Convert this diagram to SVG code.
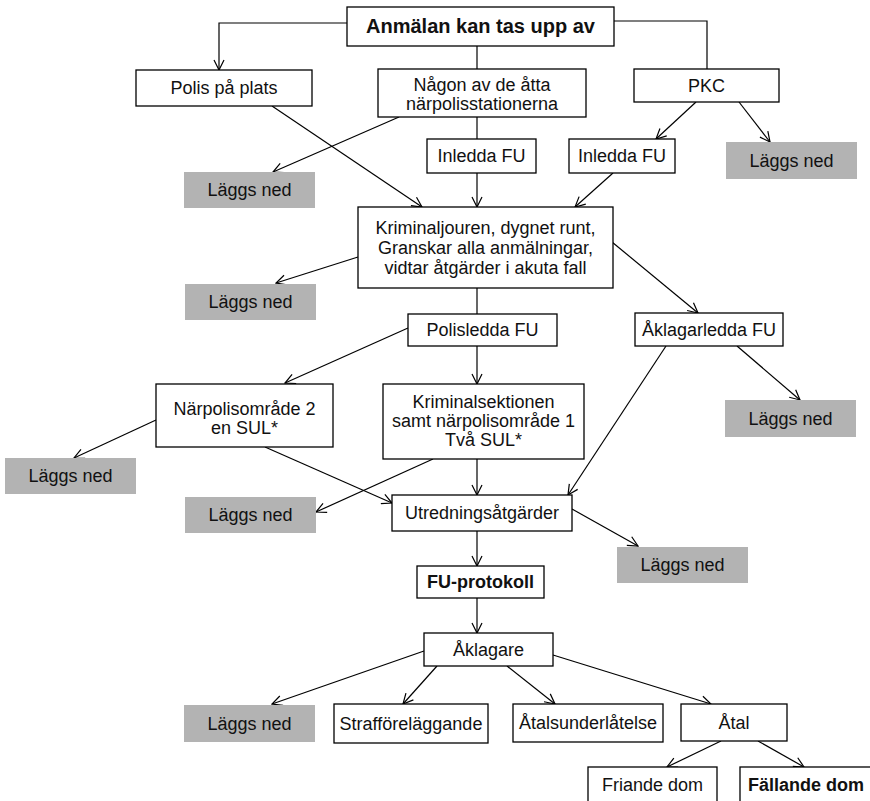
<svg xmlns="http://www.w3.org/2000/svg" width="870" height="801" viewBox="0 0 870 801">
<style>
.b{fill:#fff;stroke:#000;stroke-width:1.3}
.g{fill:#b3b3b3;stroke:none}
text{font-family:"Liberation Sans",Arial,sans-serif;font-size:18px;fill:#111;text-anchor:middle}
.bold{font-weight:bold}
.t{font-size:20px}
#connectors line,#connectors polyline{stroke:#000;stroke-width:1.2;fill:none}
.a{marker-end:url(#arr)}
</style>
<defs>
<marker id="arr" viewBox="0 0 12 12" refX="11" refY="6" markerWidth="12" markerHeight="12" markerUnits="userSpaceOnUse" orient="auto">
<path d="M1,1 L11,6 L1,11" fill="none" stroke="#000" stroke-width="1.2"/>
</marker>
</defs>
<rect width="870" height="801" fill="#fff"/>
<g id="connectors">
<polyline class="a" points="347,23 219,23 219,70"/>
<line x1="477" y1="46" x2="477" y2="69"/>
<polyline points="614,21 707,21 707,69"/>
<line x1="477" y1="117" x2="477" y2="139"/>
<line class="a" x1="477" y1="173" x2="477" y2="207"/>
<line class="a" x1="696" y1="102" x2="656" y2="139"/>
<line class="a" x1="739" y1="102" x2="770" y2="142"/>
<line class="a" x1="613" y1="173" x2="575" y2="207"/>
<line class="a" x1="399" y1="117" x2="273" y2="172"/>
<line class="a" x1="272" y1="106" x2="422" y2="207"/>
<line class="a" x1="358" y1="257" x2="276" y2="283"/>
<line x1="477" y1="288" x2="477" y2="314"/>
<line class="a" x1="612" y1="242" x2="698" y2="313"/>
<line class="a" x1="408" y1="328" x2="285" y2="383"/>
<line class="a" x1="477" y1="346" x2="477" y2="384"/>
<line class="a" x1="737" y1="346" x2="800" y2="400"/>
<line class="a" x1="666" y1="346" x2="568" y2="495"/>
<line class="a" x1="156" y1="420" x2="74" y2="458"/>
<line class="a" x1="265" y1="447" x2="392" y2="503"/>
<line class="a" x1="433" y1="459" x2="316" y2="512"/>
<line class="a" x1="477" y1="459" x2="477" y2="495"/>
<line class="a" x1="572" y1="509" x2="638" y2="546"/>
<line class="a" x1="477" y1="531" x2="477" y2="566"/>
<line class="a" x1="477" y1="598" x2="477" y2="633"/>
<line class="a" x1="424" y1="651" x2="272" y2="704"/>
<line class="a" x1="437" y1="666" x2="403" y2="704"/>
<line class="a" x1="507" y1="666" x2="555" y2="704"/>
<line class="a" x1="553" y1="655" x2="711" y2="704"/>
<line class="a" x1="721" y1="741" x2="667" y2="767"/>
<line class="a" x1="758" y1="741" x2="804" y2="767"/>
</g>
<g id="anmalan"><rect class="b" x="347" y="7" width="267" height="39"/><text class="bold t" x="480.5" y="33">Anmälan kan tas upp av</text></g>
<g id="polis"><rect class="b" x="136" y="70" width="176" height="36"/><text x="224" y="94">Polis på plats</text></g>
<g id="nagon"><rect class="b" x="378" y="69" width="208" height="48"/><text x="482" y="91">Någon av de åtta</text><text x="482" y="110">närpolisstationerna</text></g>
<g id="pkc"><rect class="b" x="634" y="69" width="145" height="33"/><text x="706.5" y="92">PKC</text></g>
<g id="inledda1"><rect class="b" x="427" y="139" width="109" height="34"/><text x="481.5" y="162">Inledda FU</text></g>
<g id="inledda2"><rect class="b" x="569" y="139" width="106" height="34"/><text x="622" y="162">Inledda FU</text></g>
<g id="lagg1"><rect class="g" x="726" y="142" width="131" height="37"/><text x="791.5" y="167">Läggs ned</text></g>
<g id="lagg2"><rect class="g" x="184" y="172" width="131" height="36"/><text x="249.5" y="196">Läggs ned</text></g>
<g id="kriminaljouren"><rect class="b" x="358" y="207" width="255" height="81"/><text x="485.5" y="234">Kriminaljouren, dygnet runt,</text><text x="485.5" y="254">Granskar alla anmälningar,</text><text x="485.5" y="274">vidtar åtgärder i akuta fall</text></g>
<g id="lagg3"><rect class="g" x="185" y="284" width="131" height="36"/><text x="250.5" y="308">Läggs ned</text></g>
<g id="polisledda"><rect class="b" x="408" y="314" width="149" height="32"/><text x="482.5" y="336">Polisledda FU</text></g>
<g id="aklagarledda"><rect class="b" x="635" y="313" width="148" height="33"/><text x="709" y="336">Åklagarledda FU</text></g>
<g id="lagg4"><rect class="g" x="725" y="400" width="131" height="37"/><text x="790.5" y="425">Läggs ned</text></g>
<g id="narpolis2"><rect class="b" x="156" y="384" width="177" height="63"/><text x="244.5" y="415">Närpolisområde 2</text><text x="244.5" y="434">en SUL*</text></g>
<g id="kriminalsektionen"><rect class="b" x="383" y="384" width="201" height="75"/><text x="483.5" y="408">Kriminalsektionen</text><text x="483.5" y="427">samt närpolisområde 1</text><text x="483.5" y="446">Två SUL*</text></g>
<g id="lagg5"><rect class="g" x="5" y="458" width="131" height="36"/><text x="70.5" y="482">Läggs ned</text></g>
<g id="lagg6"><rect class="g" x="185" y="497" width="131" height="36"/><text x="250.5" y="521">Läggs ned</text></g>
<g id="utredning"><rect class="b" x="392" y="495" width="180" height="36"/><text x="482" y="519">Utredningsåtgärder</text></g>
<g id="lagg7"><rect class="g" x="617" y="547" width="131" height="36"/><text x="682.5" y="571">Läggs ned</text></g>
<g id="fuprotokoll"><rect class="b" x="417" y="566" width="127" height="32"/><text class="bold" x="480.5" y="588">FU-protokoll</text></g>
<g id="aklagare"><rect class="b" x="424" y="633" width="129" height="33"/><text x="488.5" y="656">Åklagare</text></g>
<g id="lagg8"><rect class="g" x="184" y="705" width="131" height="37"/><text x="249.5" y="730">Läggs ned</text></g>
<g id="straff"><rect class="b" x="334" y="704" width="154" height="39"/><text x="411" y="730">Strafföreläggande</text></g>
<g id="atalsunder"><rect class="b" x="513" y="704" width="150" height="38"/><text x="588" y="729">Åtalsunderlåtelse</text></g>
<g id="atal"><rect class="b" x="681" y="704" width="106" height="37"/><text x="734" y="729">Åtal</text></g>
<g id="friande"><rect class="b" x="588" y="767" width="129" height="50"/><text x="652.5" y="791">Friande dom</text></g>
<g id="fallande"><rect class="b" x="740" y="767" width="140" height="50"/><text class="bold" x="806" y="791">Fällande dom</text></g>
</svg>
